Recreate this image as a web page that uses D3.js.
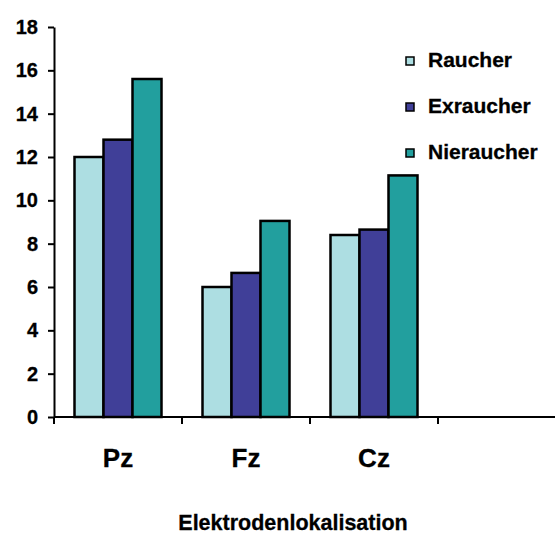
<!DOCTYPE html>
<html>
<head>
<meta charset="utf-8">
<script src="https://cdn.jsdelivr.net/npm/d3@7"></script>
<style>
  body { margin: 0; background: #fff; }
  text { font-family: "Liberation Sans", Arial, sans-serif; font-weight: bold; fill: #000; }
</style>
</head>
<body>
<div id="chart"></div>
<script>
// data
var categories = ["Pz", "Fz", "Cz", ""];
var seriesNames = ["Raucher", "Exraucher", "Nieraucher"];
var raucher = [12.0, 6.0, 8.4];
var exraucher = [12.8, 6.65, 8.65];
var nieraucher = [15.6, 9.05, 11.15];
var yTicks = [0, 2, 4, 6, 8, 10, 12, 14, 16, 18];
var colors = ["#addee2", "#403f98", "#229f9e"];

var width = 555, height = 534;
var margin = {left: 54, top: 27, bottom: 117};
var series = [raucher, exraucher, nieraucher];

var svg = d3.select("#chart").append("svg")
  .attr("width", width)
  .attr("height", height);

var x = d3.scaleBand().domain(categories).range([margin.left, margin.left + 128 * 4]);
var xs = d3.scaleBand().domain(seriesNames).range([0, 87]);
var y = d3.scaleLinear().domain([0, 18]).range([height - margin.bottom, margin.top]);

// bars
var groups = svg.selectAll("g.grp")
  .data(categories.slice(0, 3))
  .enter().append("g")
  .attr("class", "grp")
  .attr("transform", function(d) { return "translate(" + (x(d) + 20.5) + ",0)"; });

groups.selectAll("rect")
  .data(function(d, i) {
    return series.map(function(s, j) { return {name: seriesNames[j], v: s[i], c: colors[j]}; });
  })
  .enter().append("rect")
  .attr("x", function(d) { return xs(d.name); })
  .attr("width", xs.bandwidth())
  .attr("y", function(d) { return y(d.v); })
  .attr("height", function(d) { return y(0) - y(d.v); })
  .attr("fill", function(d) { return d.c; })
  .attr("stroke", "#000")
  .attr("stroke-width", 2.5);

// y axis
var yAxis = svg.append("g")
  .attr("transform", "translate(" + margin.left + ",0)")
  .call(d3.axisLeft(y).tickValues(yTicks).tickSize(6).tickSizeOuter(0).tickPadding(10));
yAxis.select(".domain").attr("stroke-width", 2);
yAxis.selectAll(".tick line").attr("stroke-width", 2);
yAxis.selectAll("text").style("font-size", "20px").style("stroke", "#000").style("stroke-width", 0.3);

// x axis
var xAxisG = svg.append("g").attr("transform", "translate(0," + y(0) + ")");
xAxisG.append("line")
  .attr("x1", margin.left).attr("x2", width)
  .attr("stroke", "#000").attr("stroke-width", 2);
xAxisG.selectAll("line.tk")
  .data(categories)
  .enter().append("line")
  .attr("class", "tk")
  .attr("x1", function(d) { return x(d); })
  .attr("x2", function(d) { return x(d); })
  .attr("y1", 0).attr("y2", 7)
  .attr("stroke", "#000").attr("stroke-width", 2);
xAxisG.selectAll("text")
  .data(categories)
  .enter().append("text")
  .attr("x", function(d) { return x(d) + x.bandwidth() / 2; })
  .attr("y", 50)
  .attr("text-anchor", "middle")
  .style("font-size", "26px")
  .style("stroke", "#000").style("stroke-width", 0.3)
  .text(function(d) { return d; });

// axis title
svg.append("text")
  .attr("x", 293)
  .attr("y", 530)
  .attr("text-anchor", "middle")
  .style("font-size", "21.5px")
  .style("stroke", "#000").style("stroke-width", 0.3)
  .text("Elektrodenlokalisation");

// legend
var legend = svg.selectAll("g.leg")
  .data(seriesNames)
  .enter().append("g")
  .attr("class", "leg")
  .attr("transform", function(d, i) { return "translate(406," + (57 + i * 46) + ")"; });
legend.append("rect")
  .attr("width", 8).attr("height", 8)
  .attr("fill", function(d, i) { return colors[i]; })
  .attr("stroke", "#000").attr("stroke-width", 1.5);
legend.append("text")
  .attr("x", 22)
  .attr("y", 10)
  .style("font-size", "21px")
  .style("stroke", "#000").style("stroke-width", 0.3)
  .text(function(d) { return d; });
</script>
</body>
</html>
